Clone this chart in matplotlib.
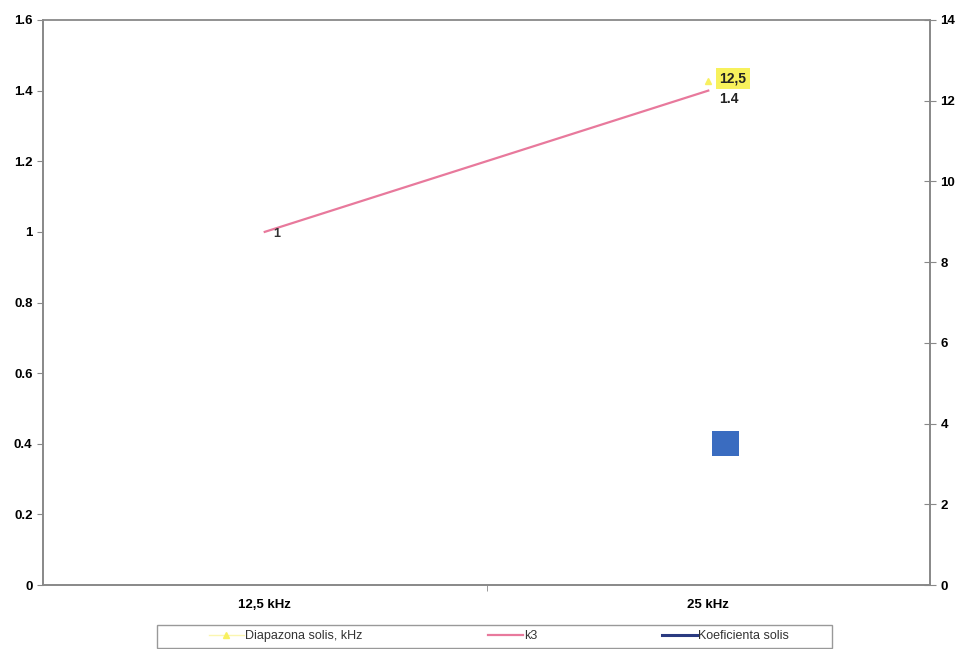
import matplotlib
matplotlib.use("Agg")
import matplotlib.pyplot as plt
from matplotlib.lines import Line2D
from matplotlib.patches import Rectangle

plt.rcParams['font.family'] = ['Liberation Sans', 'DejaVu Sans']

categories = ["12,5 kHz", "25 kHz"]
k3 = [1.0, 1.4]
k3_labels = ["1", "1.4"]
diapazona = [None, 12.5]
diapazona_labels = ["", "12,5"]
koeficienta = [None, 3.5]

left_ticks = [0, 0.2, 0.4, 0.6, 0.8, 1, 1.2, 1.4, 1.6]
right_ticks = [0, 2, 4, 6, 8, 10, 12, 14]

fig = plt.figure(figsize=(9.6, 6.49), dpi=100)
ax = fig.add_axes([43/960, 64/649, 887/960, 565/649])
ax2 = ax.twinx()

x = list(range(len(categories)))

# k3 on the primary axis
ax.plot(x, k3, color="#e8799c", lw=1.6, zorder=3)
ax.text(x[0] + 0.02, k3[0] - 0.005, k3_labels[0], fontsize=9, fontweight="bold",
        color="#333333", ha="left", va="center")
ax.text(x[1] + 0.025, k3[1] - 0.025, k3_labels[1], fontsize=10, fontweight="bold",
        color="#222222", ha="left", va="center", zorder=5)

ax.set_xlim(-0.5, 1.5)
ax.set_ylim(0, 1.6)
ax.set_yticks(left_ticks)
ax.set_yticklabels([f"{t:g}" for t in left_ticks], fontsize=9.5, fontweight="bold")
ax.set_xticks(x)
ax.set_xticklabels(categories, fontsize=9.5, fontweight="bold")
ax.tick_params(axis="x", length=0, pad=10)
ax.set_xticks([0.5], minor=True)
ax.tick_params(axis="x", which="minor", length=4, color="#888888")
ax.tick_params(axis="y", length=4, color="#888888", direction="out")

# secondary axis series
ax2.set_ylim(0, 14)
ax2.set_yticks(right_ticks)
ax2.set_yticklabels([str(t) for t in right_ticks], fontsize=9.5, fontweight="bold")
ax2.tick_params(axis="y", direction="inout", length=8, color="#888888")

for xi, v, lab in zip(x, diapazona, diapazona_labels):
    if v is None:
        continue
    ax2.plot([xi], [v], marker="^", ms=5, color="#f8f060", mec="#f8f060", zorder=4)
    ax2.text(xi + 0.025, v + 0.05, lab, fontsize=10, fontweight="bold", color="#222222",
             ha="left", va="center", zorder=6,
             bbox=dict(boxstyle="square,pad=0.25", fc="#f7f15c", ec="none"))

for xi, v in zip(x, koeficienta):
    if v is None:
        continue
    ax2.text(xi + 0.02, v, "    ", fontsize=11, ha="left", va="center", zorder=6,
             bbox=dict(boxstyle="square,pad=0.35", fc="#3a6cc0", ec="none"))

for a in (ax, ax2):
    for side in a.spines.values():
        side.set_color("#888888")
        side.set_linewidth(1.2)
ax.spines["top"].set_color("#cccccc")

handles = [
    Line2D([], [], color="#fbf6b0", lw=1.0, marker="^", ms=5, mfc="#f8f060", mec="#f8f060"),
    Line2D([], [], color="#e8799c", lw=1.6),
    Line2D([], [], color="#2a3a80", lw=2.2),
]
labels = ["Diapazona solis, kHz", "k3", "Koeficienta solis"]

# legend frame spanning below the plot
fig.patches.append(Rectangle((157/960, 1 - 648/649), 675/960, 23/649,
                             transform=fig.transFigure, fc="white", ec="#999999", lw=1.0))
leg = fig.legend(handles, labels, loc="center", bbox_to_anchor=(499/960, 1 - 636/649),
                 ncol=3, fontsize=9, frameon=False,
                 columnspacing=10, handlelength=2.8, handletextpad=0.1,
                 borderpad=0.2)
for t in leg.get_texts():
    t.set_color("#333333")

fig.savefig("out.png", dpi=100)
